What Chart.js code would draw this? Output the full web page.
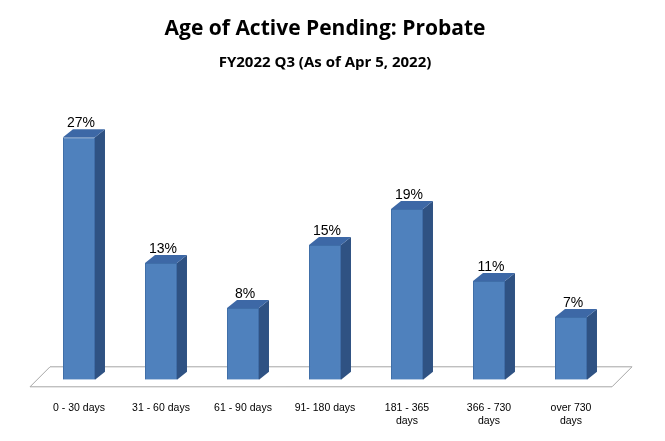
<!DOCTYPE html>
<html>
<head>
<script src="https://cdn.jsdelivr.net/npm/chart.js@4"></script>
<style>body{margin:0;background:#fff}#wrap{width:665px;height:441px}</style>
</head>
<body>
<div id="wrap"><canvas id="myChart"></canvas></div>
<script>
const categories = [["0 - 30 days"], ["31 - 60 days"], ["61 - 90 days"], ["91- 180 days"], ["181 - 365", "days"], ["366 - 730", "days"], ["over 730", "days"]];
const shares = [27, 13, 8, 15, 19, 11, 7];

const DX = 10, DY = -8;

// draws the floor, the 3d faces and the value labels
const bars3d = {
    id: 'bars3d',
    beforeDatasetsDraw(chart)
    {
        const ctx = chart.ctx, a = chart.chartArea;
        const yb = chart.scales.y.getPixelForValue(0);
        ctx.save();
        ctx.strokeStyle = '#a6a6a6';
        ctx.fillStyle = '#fff';
        ctx.beginPath();
        ctx.moveTo(a.left - 8, yb + 7);
        ctx.lineTo(a.left + 12, yb - 13);
        ctx.lineTo(a.right + 20, yb - 13);
        ctx.lineTo(a.right, yb + 7);
        ctx.closePath();
        ctx.fill();
        ctx.stroke();
        ctx.restore();
    },
    afterDatasetsDraw(chart)
    {
        const ctx = chart.ctx;
        ctx.save();
        chart.getDatasetMeta(0).data.forEach((bar, i) =>
        {
            const l = bar.x - bar.width / 2, r = bar.x + bar.width / 2;
            const t = bar.y, b = bar.base;
            ctx.fillStyle = '#2f5283';
            ctx.beginPath();
            ctx.moveTo(r, t); ctx.lineTo(r + DX, t + DY); ctx.lineTo(r + DX, b + DY); ctx.lineTo(r, b);
            ctx.closePath(); ctx.fill();
            ctx.fillStyle = '#3d68a6';
            ctx.beginPath();
            ctx.moveTo(l, t); ctx.lineTo(l + DX, t + DY); ctx.lineTo(r + DX, t + DY); ctx.lineTo(r, t);
            ctx.closePath(); ctx.fill();
            ctx.fillStyle = '#000';
            ctx.font = '14px "Liberation Sans", sans-serif';
            ctx.textAlign = 'center';
            ctx.fillText(shares[i] + '%', bar.x + 2, t - 10);
        });
        ctx.restore();
    }
};

new Chart(document.getElementById('myChart'), {
    type: 'bar',
    data: {
        labels: categories,
        datasets: [{
            data: shares,
            backgroundColor: '#4f81bd',
            borderColor: '#3f6ea8',
            borderWidth: 1,
            barPercentage: 0.39,
            categoryPercentage: 1
        }]
    },
    options: {
        responsive: true,
        maintainAspectRatio: false,
        animation: false,
        layout: { padding: { left: 38, right: 53, top: 4, bottom: 0 } },
        plugins: {
            legend: { display: false },
            tooltip: { enabled: false },
            title: {
                display: true,
                text: 'Age of Active Pending: Probate',
                color: '#000',
                font: { family: '"Open Sans", sans-serif', size: 21, weight: 'bold' },
                padding: { top: 12, bottom: 13 }
            },
            subtitle: {
                display: true,
                text: 'FY2022 Q3 (As of Apr 5, 2022)',
                color: '#000',
                font: { family: '"Open Sans", sans-serif', size: 15, weight: 'bold' },
                padding: { bottom: 56 }
            }
        },
        scales: {
            x: {
                grid: { display: false },
                border: { display: false },
                ticks: { color: '#000', font: { family: '"Liberation Sans", sans-serif', size: 10.5 }, padding: 14, maxRotation: 0 }
            },
            y: { display: false, min: 0, max: 28 }
        }
    },
    plugins: [bars3d]
});
</script>
</body>
</html>
